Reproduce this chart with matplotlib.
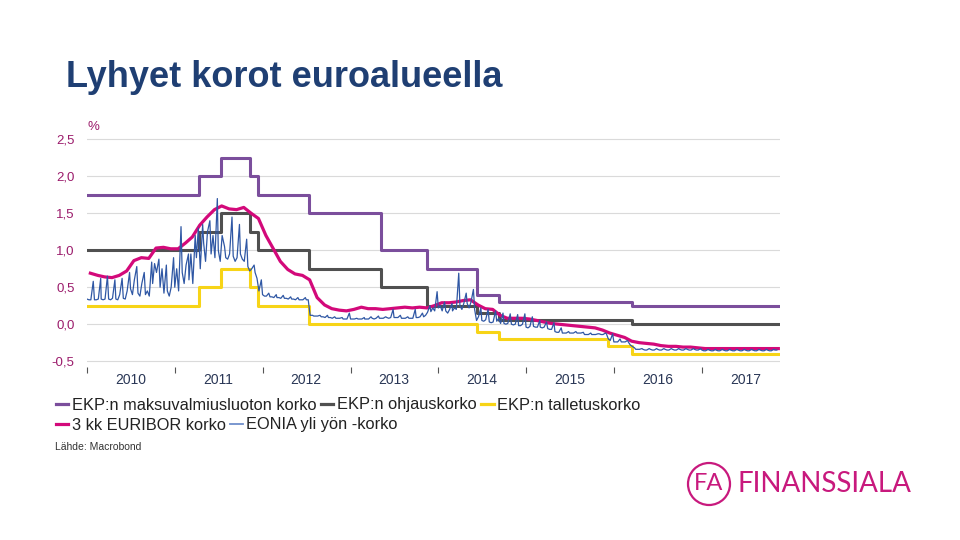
import numpy as np
import pandas as pd
import matplotlib
matplotlib.use('Agg')
import matplotlib.pyplot as plt
import matplotlib.dates as mdates
from matplotlib.lines import Line2D
from matplotlib.patches import Ellipse

plt.rcParams['font.family'] = ['Liberation Sans', 'DejaVu Sans']

# ECB policy rates, value valid from each date on
change_dates = ['2010-01-01', '2011-04-13', '2011-07-13', '2011-11-09', '2011-12-14',
                '2012-07-11', '2013-05-08', '2013-11-13', '2014-06-11', '2014-09-10',
                '2015-12-09', '2016-03-16', '2017-11-15']
marginal = [1.75, 2.00, 2.25, 2.00, 1.75, 1.50, 1.00, 0.75, 0.40, 0.30, 0.30, 0.25, 0.25]
refi = [1.00, 1.25, 1.50, 1.25, 1.00, 0.75, 0.50, 0.25, 0.15, 0.05, 0.05, 0.00, 0.00]
deposit = [0.25, 0.50, 0.75, 0.50, 0.25, 0.00, 0.00, 0.00, -0.10, -0.20, -0.30, -0.40, -0.40]

# 3 kk euribor, monthly (Jan 2010 .. Nov 2017)
euribor = [0.69, 0.66, 0.64, 0.63, 0.66, 0.72, 0.86, 0.90, 0.89, 1.03, 1.04, 1.02,
           1.02, 1.10, 1.18, 1.34, 1.45, 1.55, 1.60, 1.56, 1.55, 1.58, 1.50, 1.43,
           1.20, 1.02, 0.85, 0.74, 0.68, 0.66, 0.60, 0.36, 0.26, 0.21, 0.19, 0.18,
           0.20, 0.23, 0.21, 0.21, 0.20, 0.21, 0.22, 0.23, 0.22, 0.23, 0.22, 0.25,
           0.29, 0.29, 0.30, 0.32, 0.33, 0.26, 0.21, 0.20, 0.12, 0.08, 0.08, 0.08,
           0.07, 0.05, 0.03, 0.01, 0.00, -0.01, -0.02, -0.03, -0.04, -0.05, -0.08, -0.12,
           -0.15, -0.18, -0.23, -0.25, -0.26, -0.27, -0.29, -0.30, -0.30, -0.31, -0.31, -0.32,
           -0.33, -0.33, -0.33, -0.33, -0.33, -0.33, -0.33, -0.33, -0.33, -0.33, -0.33]

# EONIA, four readings a month (days 1, 9, 17 and month end)
eonia_2010 = [0.34, 0.33, 0.33, 0.58, 0.33, 0.33, 0.34, 0.62, 0.34, 0.33, 0.34, 0.65,
              0.34, 0.33, 0.35, 0.60, 0.34, 0.33, 0.40, 0.62, 0.35, 0.34, 0.45, 0.70,
              0.48, 0.40, 0.60, 0.78, 0.42, 0.38, 0.55, 0.70, 0.40, 0.45, 0.38, 0.84,
              0.55, 0.82, 0.70, 0.88, 0.50, 0.75, 0.42, 0.80, 0.45, 0.38, 0.50, 0.90]
eonia_2011 = [0.50, 0.75, 0.45, 1.32, 0.70, 0.55, 0.80, 0.95, 0.60, 0.95, 0.55, 1.20,
              0.90, 1.30, 0.75, 1.35, 1.10, 0.85, 1.25, 1.40, 0.95, 1.20, 0.90, 1.70,
              1.00, 0.85, 1.20, 1.05, 0.90, 0.88, 0.95, 1.45, 0.92, 0.85, 0.90, 1.35,
              0.95, 0.88, 0.85, 1.15, 0.78, 0.72, 0.75, 0.80, 0.70, 0.62, 0.45, 0.60]
eonia_2012 = [0.40, 0.38, 0.38, 0.42, 0.37, 0.37, 0.36, 0.40, 0.36, 0.36, 0.35, 0.39,
              0.35, 0.35, 0.34, 0.37, 0.34, 0.34, 0.33, 0.36, 0.33, 0.33, 0.33, 0.36,
              0.33, 0.33, 0.12, 0.12, 0.11, 0.11, 0.11, 0.12, 0.10, 0.10, 0.09, 0.12,
              0.09, 0.09, 0.08, 0.10, 0.08, 0.08, 0.08, 0.09, 0.07, 0.07, 0.07, 0.15]
eonia_2013 = [0.07, 0.07, 0.07, 0.08, 0.07, 0.07, 0.07, 0.09, 0.07, 0.07, 0.07, 0.10,
              0.08, 0.07, 0.08, 0.11, 0.08, 0.08, 0.08, 0.10, 0.09, 0.08, 0.09, 0.20,
              0.09, 0.09, 0.09, 0.12, 0.08, 0.08, 0.08, 0.10, 0.08, 0.08, 0.08, 0.20,
              0.09, 0.09, 0.10, 0.15, 0.10, 0.12, 0.16, 0.25, 0.17, 0.22, 0.18, 0.44]
eonia_2014 = [0.22, 0.25, 0.18, 0.30, 0.18, 0.15, 0.20, 0.28, 0.18, 0.22, 0.20, 0.69,
              0.25, 0.20, 0.28, 0.42, 0.28, 0.22, 0.30, 0.47, 0.20, 0.05, 0.10, 0.22,
              0.05, 0.04, 0.06, 0.20, 0.03, 0.02, 0.03, 0.18, 0.04, 0.08, 0.01, 0.15,
              0.01, 0.00, 0.01, 0.14, 0.00, -0.01, 0.00, 0.13, -0.02, -0.02, 0.00, 0.14]
eonia_2015 = [-0.04, -0.05, -0.03, 0.10, -0.03, -0.04, -0.04, 0.05, -0.04, -0.05, -0.04, 0.03,
              -0.06, -0.07, -0.07, 0.02, -0.10, -0.11, -0.11, -0.05, -0.12, -0.12, -0.12, -0.10,
              -0.12, -0.12, -0.12, -0.10, -0.12, -0.12, -0.12, -0.11, -0.14, -0.14, -0.14, -0.12,
              -0.14, -0.14, -0.14, -0.13, -0.13, -0.14, -0.14, -0.12, -0.13, -0.20, -0.22, -0.13]
eonia_2016 = [-0.24, -0.24, -0.24, -0.20, -0.24, -0.24, -0.24, -0.22, -0.24, -0.28, -0.30, -0.32,
              -0.34, -0.34, -0.34, -0.33, -0.34, -0.35, -0.35, -0.33, -0.34, -0.35, -0.35, -0.33,
              -0.34, -0.35, -0.35, -0.33, -0.34, -0.35, -0.35, -0.33, -0.34, -0.35, -0.35, -0.33,
              -0.34, -0.35, -0.35, -0.33, -0.34, -0.35, -0.35, -0.33, -0.34, -0.35, -0.35, -0.33]
eonia_2017 = [-0.35, -0.36, -0.36, -0.34, -0.35, -0.36, -0.36, -0.34, -0.35, -0.36, -0.36, -0.34,
              -0.35, -0.36, -0.36, -0.34, -0.35, -0.36, -0.36, -0.34, -0.35, -0.36, -0.36, -0.34,
              -0.35, -0.36, -0.36, -0.34, -0.35, -0.36, -0.36, -0.34, -0.35, -0.36, -0.36, -0.34,
              -0.35, -0.36, -0.36, -0.34, -0.35, -0.35]

yticks = [-0.5, 0.0, 0.5, 1.0, 1.5, 2.0, 2.5]

labels_row1 = ['EKP:n maksuvalmiusluoton korko', 'EKP:n ohjauskorko', 'EKP:n talletuskorko']
labels_row2 = ['3 kk EURIBOR korko', 'EONIA yli yön -korko']

c_marg = '#7B4E9C'
c_refi = '#505050'
c_dep = '#F7D417'
c_eur = '#D3097A'
c_eon = '#2F57A4'
c_tick = '#9B1B6B'

# dates
steps_x = pd.to_datetime(change_dates)
months = pd.date_range('2010-01-01', '2017-11-01', freq='MS')
eur_x = months + pd.Timedelta(days=14)
eon_vals = np.concatenate([eonia_2010, eonia_2011, eonia_2012, eonia_2013,
                           eonia_2014, eonia_2015, eonia_2016, eonia_2017])
eon_x = []
for m in months:
    for d in [0, 8, 16, 26]:
        eon_x.append(m + pd.Timedelta(days=d))
eon_x = eon_x[:len(eon_vals)]

fig = plt.figure(figsize=(9.6, 5.4), dpi=100)
ax = fig.add_axes([87/960, 1-370/540, 693/960, 235/540])

ax.plot(steps_x, marginal, drawstyle='steps-post', color=c_marg, lw=2.2)
ax.plot(steps_x, refi, drawstyle='steps-post', color=c_refi, lw=2.2)
ax.plot(steps_x, deposit, drawstyle='steps-post', color=c_dep, lw=2.2)
ax.plot(eur_x, euribor, color=c_eur, lw=2.3)
ax.plot(eon_x, eon_vals, color=c_eon, lw=0.9)

ax.set_xlim(pd.Timestamp('2010-01-01'), pd.Timestamp('2017-11-22'))
ax.set_ylim(-0.62, 2.56)
ax.set_yticks(yticks)
ax.set_yticklabels([f'{v:.1f}'.replace('.', ',') for v in yticks])
ax.grid(axis='y', color='#DADADA', lw=0.8)
ax.set_axisbelow(True)
for s in ax.spines.values():
    s.set_visible(False)

ax.xaxis.set_major_locator(mdates.YearLocator())
ax.xaxis.set_major_formatter(plt.NullFormatter())
ax.xaxis.set_minor_locator(mdates.MonthLocator(bymonth=7))
ax.xaxis.set_minor_formatter(mdates.DateFormatter('%Y'))
ax.tick_params(axis='x', which='major', direction='inout', length=4, width=0.8, color='#555555')
ax.tick_params(axis='x', which='minor', length=0, pad=2.5, labelsize=10, labelcolor='#2A3756')
ax.tick_params(axis='y', length=0, pad=9, labelsize=9.5, labelcolor=c_tick)

fig.text(87/960, 1-127/540, '%', fontsize=9.5, color=c_tick, va='center')

fig.text(66/960, 1-78/540, 'Lyhyet korot euroalueella', fontsize=26, weight='bold',
         color='#1F3F73', va='center')

# legend in two rows
h1 = [Line2D([], [], color=c_marg, lw=2.3), Line2D([], [], color=c_refi, lw=2.3),
      Line2D([], [], color=c_dep, lw=2.3)]
h2 = [Line2D([], [], color=c_eur, lw=2.3), Line2D([], [], color='#6F8FCB', lw=1.3)]
leg_kw = dict(frameon=False, fontsize=11.8, handlelength=0.75, handletextpad=0.2,
              columnspacing=0.3, borderpad=0, borderaxespad=0, labelcolor='#222222')
fig.legend(h1, labels_row1, loc='center left', bbox_to_anchor=(56/960, 1-405/540),
           ncol=3, **leg_kw)
fig.legend(h2, labels_row2, loc='center left', bbox_to_anchor=(56/960, 1-425/540),
           ncol=2, **leg_kw)

fig.text(55/960, 1-447/540, 'Lähde: Macrobond', fontsize=7.5, color='#333333', va='center')

# logo
c_logo = '#C8197D'
fig.add_artist(Ellipse((709/960, 1-484/540), 42/960, 42/540, transform=fig.transFigure,
                       fill=False, ec=c_logo, lw=1.6))
fig.text(709/960, 1-484/540, 'FA', fontsize=17, color=c_logo, ha='center', va='center',
         family=['Lato', 'DejaVu Sans'])
fig.text(737/960, 1-484/540, 'FINANSSIALA', fontsize=20, color=c_logo, va='center',
         family=['Lato', 'DejaVu Sans'])

fig.savefig('out.png', dpi=100)
